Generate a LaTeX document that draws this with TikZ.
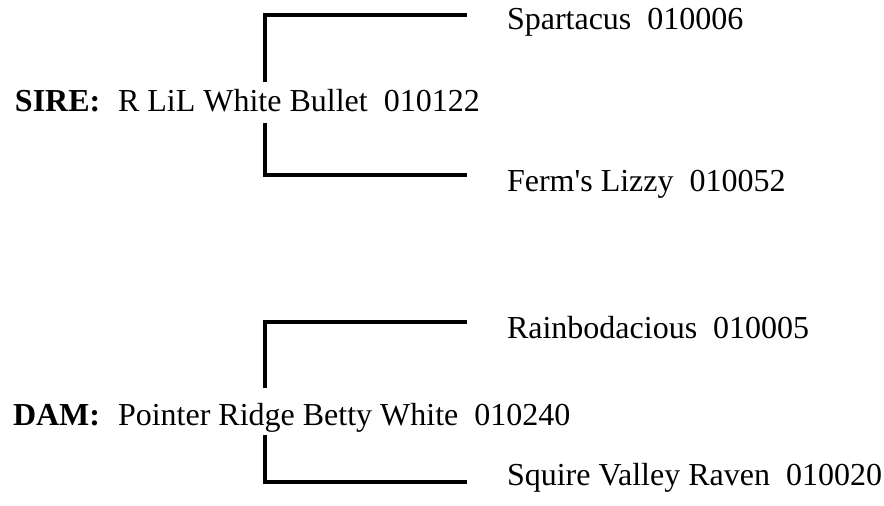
\documentclass[tikz,border=0pt]{standalone}
\usepackage{fontspec}
\setmainfont{Liberation Serif}
\begin{document}
\begin{tikzpicture}[x=1pt,y=-1pt,
  txt/.style={anchor=base west,inner sep=0pt,outer sep=0pt,font=\fontsize{32}{38}\selectfont},
  lbl/.style={txt,font=\fontsize{32}{38}\selectfont\bfseries},
  bracket/.style={line width=3.6pt,line join=miter,line cap=butt}]
\useasboundingbox[fill=white] (0,0) rectangle (884,506);
% sire
\node[lbl] (sire) at (15,111) {SIRE:};
\node[txt] (sirename) at (118,111) {R LiL White Bullet\ \ 010122};
\node[txt] (ss) at (507,30) {Spartacus\ \ 010006};
\node[txt] (sd) at (507,191) {Ferm\textquotesingle s Lizzy\ \ 010052};
\coordinate (s1) at (467,15);
\coordinate (s2) at (265,15);
\coordinate (s3) at (265,82);
\coordinate (s4) at (265,123);
\coordinate (s5) at (265,175);
\coordinate (s6) at (467,175);
\draw[bracket] (s1) -- (s2) -- (s3);
\draw[bracket] (s4) -- (s5) -- (s6);
% dam
\node[lbl] (dam) at (13,425) {DAM:};
\node[txt] (damname) at (118,425) {Pointer Ridge Betty White\ \ 010240};
\node[txt] (ds) at (507,338) {Rainbodacious\ \ 010005};
\node[txt] (dd) at (507,485) {Squire Valley Raven\ \ 010020};
\coordinate (d1) at (467,322);
\coordinate (d2) at (265,322);
\coordinate (d3) at (265,388);
\coordinate (d4) at (265,435);
\coordinate (d5) at (265,482);
\coordinate (d6) at (467,482);
\draw[bracket] (d1) -- (d2) -- (d3);
\draw[bracket] (d4) -- (d5) -- (d6);
\end{tikzpicture}
\end{document}
